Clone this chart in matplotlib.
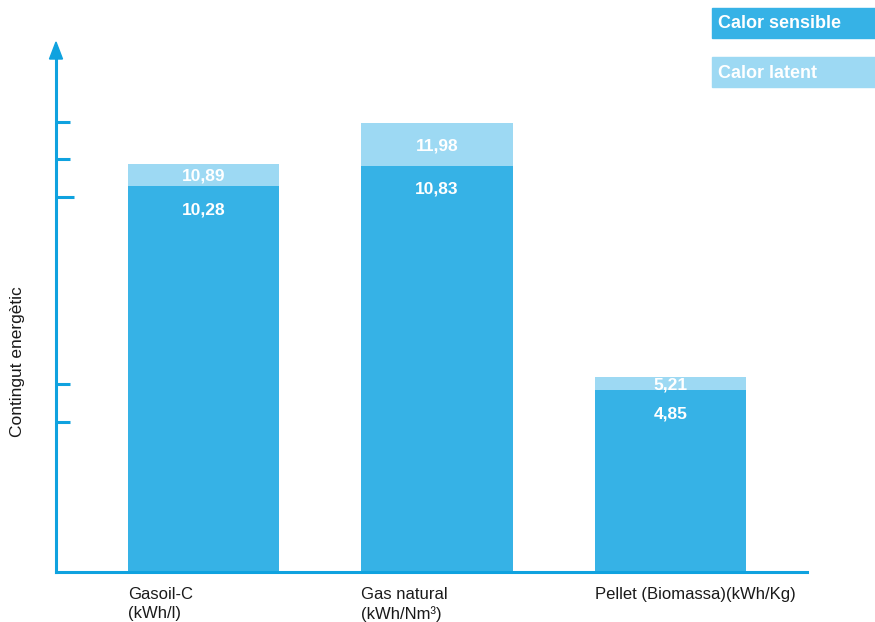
import matplotlib
matplotlib.use("Agg")
import matplotlib.pyplot as plt
from matplotlib.patches import Polygon, Rectangle
import numpy as np

plt.rcParams['font.family'] = ['Liberation Sans', 'DejaVu Sans']

categories = ["Gasoil-C\n(kWh/l)", "Gas natural\n(kWh/Nm³)", "Pellet (Biomassa)(kWh/Kg)"]
sensible = [10.28, 10.83, 4.85]
latent = [10.89, 11.98, 5.21]
axis_ticks = [4, 5, 10, 11, 12]
legend_labels = ["Calor sensible", "Calor latent"]
y_label = "Contingut energètic"

C_SENS = '#36B2E6'
C_LAT = '#9DD9F3'
C_AXIS = '#0FA2DF'
C_TEXT = '#1a1a1a'

W, H = 875, 622
fig = plt.figure(figsize=(W / 100, H / 100), dpi=100)
ax = fig.add_axes([56 / W, 50 / H, 751 / W, 530 / H])

x = np.arange(len(categories))
width = 0.647
sens = np.array(sensible)
tot = np.array(latent)

ax.bar(x, sens, width, color=C_SENS, zorder=2)
ax.bar(x, tot - sens, width, bottom=sens, color=C_LAT, zorder=2)

for xi, s, t in zip(x, sens, tot):
    ax.annotate(f"{s:.2f}".replace('.', ','), (xi, s), xytext=(0, -17),
                textcoords='offset points', ha='center', va='center',
                color='white', fontweight='bold', fontsize=12.5, zorder=3)
    ax.annotate(f"{t:.2f}".replace('.', ','), (xi, (s + t) / 2), xytext=(0, -1),
                textcoords='offset points', ha='center', va='center',
                color='white', fontweight='bold', fontsize=12.5, zorder=3)

ax.set_xlim(-0.632, 2.585)
ax.set_ylim(0, 14.13)

for side in ['top', 'right']:
    ax.spines[side].set_visible(False)
for side in ['left', 'bottom']:
    ax.spines[side].set_color(C_AXIS)
    ax.spines[side].set_linewidth(2.2)
    ax.spines[side].set_zorder(4)
ax.spines['left'].set_bounds(0, 14.13 * (1 - 15 / 530))

# arrow head on the vertical axis
hw = 6.5 / 751
hl = 17 / 530
ax.add_patch(Polygon([(0, 1), (-hw, 1 - hl), (hw, 1 - hl)], closed=True,
                     transform=ax.transAxes, color=C_AXIS, clip_on=False, zorder=5))

ax.set_yticks(axis_ticks)
ax.set_yticklabels([])
ax.tick_params(axis='y', direction='in', length=10, width=2.2, color=C_AXIS)
ax.yaxis.get_major_ticks()[2].tick1line.set_markersize(13)

ax.set_xticks(x - width / 2)
ax.set_xticklabels(categories, ha='left', fontsize=12, color=C_TEXT, linespacing=1.3)
ax.tick_params(axis='x', length=0, pad=11)

fig.text(18 / W, 1 - 362 / H, y_label, rotation=90, ha='center', va='center',
         fontsize=12.5, color=C_TEXT)

# legend boxes
for i, (lab, col) in enumerate(zip(legend_labels, [C_SENS, C_LAT])):
    top = 8 + i * 49
    fig.patches.append(Rectangle((712 / W, 1 - (top + 30) / H), 163 / W, 30 / H,
                                 transform=fig.transFigure, color=col, zorder=1))
    fig.text(718 / W, 1 - (top + 16) / H, lab, ha='left', va='center',
             color='white', fontweight='bold', fontsize=13)

fig.savefig('out.png', dpi=100)
